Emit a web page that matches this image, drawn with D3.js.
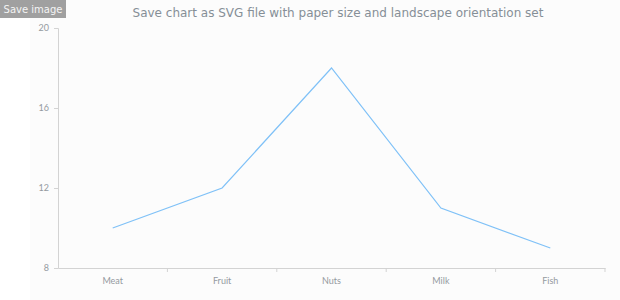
<!DOCTYPE html>
<html>
<head>
<meta charset="utf-8">
<script src="https://cdn.jsdelivr.net/npm/d3@7"></script>
<style>
  body { margin: 0; background: #fff; }
  svg { display: block; font-family: "DejaVu Sans", sans-serif; }
</style>
</head>
<body>
<div id="chart"></div>
<script>
// data
var categories = ["Meat", "Fruit", "Nuts", "Milk", "Fish"];
var values = [10, 12, 18, 11, 9];
var yTicks = [8, 12, 16, 20];

var width = 620, height = 300;
var margin = {top: 28, right: 15, bottom: 32, left: 58};

var svg = d3.select("#chart").append("svg")
  .attr("width", width)
  .attr("height", height);

// chart background (slightly off-white)
svg.append("rect")
  .attr("x", 30).attr("y", 0)
  .attr("width", width - 30).attr("height", height)
  .attr("fill", "#fcfcfc");

var x = d3.scaleBand()
  .domain(categories)
  .range([margin.left, width - margin.right]);

var y = d3.scaleLinear()
  .domain([8, 20])
  .range([height - margin.bottom, margin.top]);

// title
svg.append("text")
  .attr("x", 338).attr("y", 17)
  .attr("text-anchor", "middle")
  .attr("fill", "#868f97")
  .style("font-size", "12px")
  .text("Save chart as SVG file with paper size and landscape orientation set");

// y axis
var yAxis = svg.append("g")
  .attr("transform", "translate(" + margin.left + ",0)")
  .call(d3.axisLeft(y).tickValues(yTicks).tickSize(4).tickPadding(5));

// x axis
var xAxis = svg.append("g")
  .attr("transform", "translate(0," + (height - margin.bottom) + ")")
  .call(d3.axisBottom(x).tickSize(0).tickPadding(10));

[yAxis, xAxis].forEach(function(a) {
  a.select(".domain").attr("stroke", "#d3d3d3");
  a.selectAll(".tick line").attr("stroke", "#d3d3d3");
  a.selectAll("text").attr("fill", "#949aa0").style("font-size", "9px").style("font-family", "Lato, 'DejaVu Sans', sans-serif");
});

// x tick marks between bands
svg.append("g").selectAll("line")
  .data(categories)
  .enter().append("line")
  .attr("x1", function(d) { return x(d) + x.bandwidth(); })
  .attr("x2", function(d) { return x(d) + x.bandwidth(); })
  .attr("y1", height - margin.bottom)
  .attr("y2", height - margin.bottom + 4)
  .attr("stroke", "#d3d3d3");

// line
var line = d3.line()
  .x(function(d, i) { return x(categories[i]) + x.bandwidth() / 2; })
  .y(function(d) { return y(d); });

svg.append("path")
  .datum(values)
  .attr("d", line)
  .attr("fill", "none")
  .attr("stroke", "#7fc1f7")
  .attr("stroke-width", 1.2);

// save image button
svg.append("rect")
  .attr("x", 0).attr("y", 0)
  .attr("width", 66).attr("height", 18)
  .attr("fill", "#a0a0a0");
svg.append("text")
  .attr("x", 33).attr("y", 12.5)
  .attr("text-anchor", "middle")
  .attr("fill", "#f4f4f4")
  .style("font-size", "10px")
  .text("Save image");
</script>
</body>
</html>
